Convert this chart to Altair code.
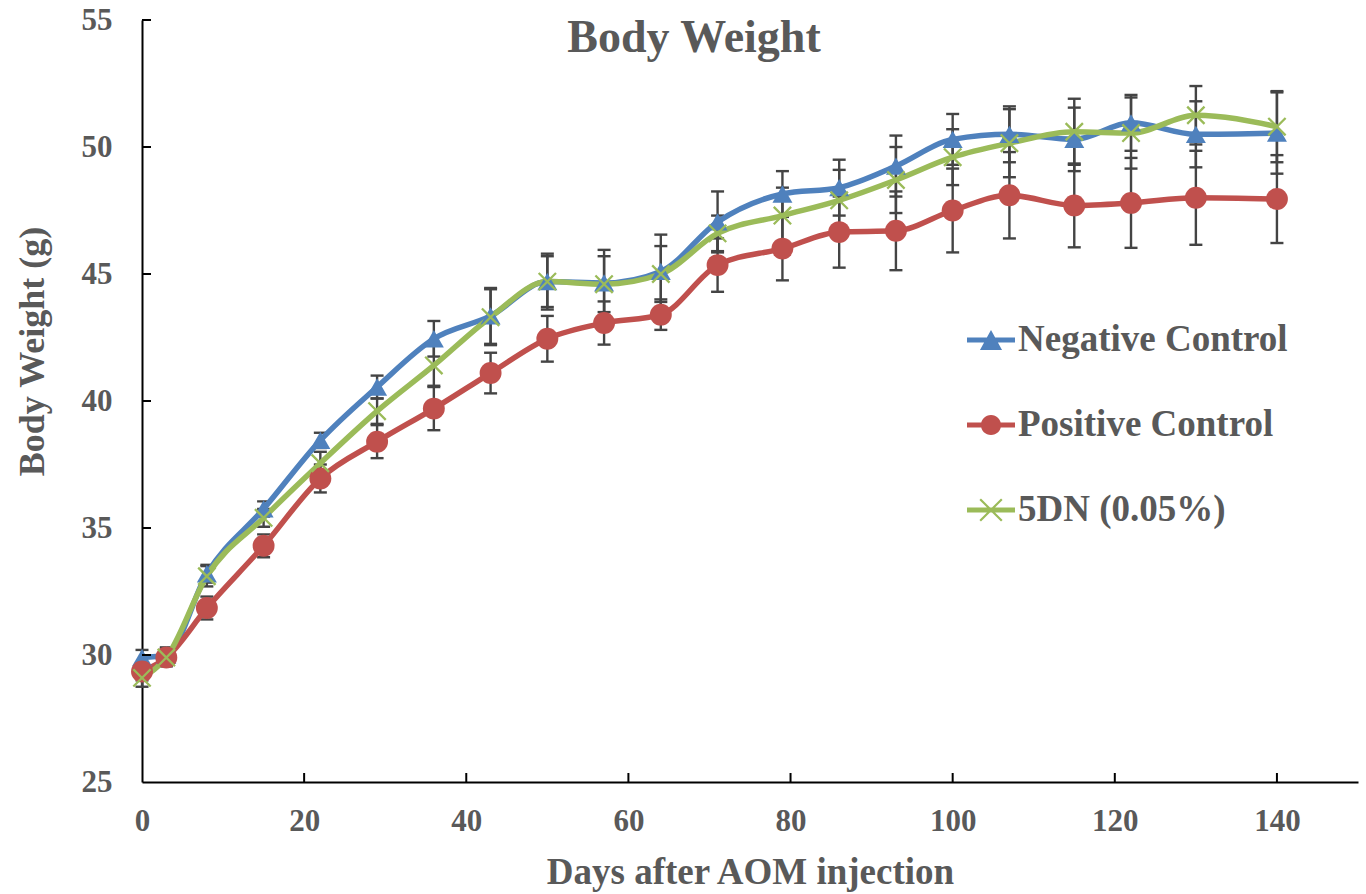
import altair as alt
import pandas as pd

days = [0, 3, 8, 15, 22, 29, 36, 43, 50, 57, 64, 71, 79, 86, 93, 100, 107, 115, 122, 130, 140]
series_names = ["Negative Control", "Positive Control", "5DN (0.05%)"]
colors = ["#4F81BD", "#C0504D", "#9BBB59"]

neg_mean = [29.9, 30.0, 33.2, 35.75, 38.45, 40.55, 42.45, 43.35, 44.7, 44.65, 45.1, 47.05, 48.15,
            48.4, 49.25, 50.3, 50.5, 50.3, 50.95, 50.5, 50.55]
pos_mean = [29.35, 29.9, 31.85, 34.3, 36.95, 38.4, 39.7, 41.1, 42.45, 43.07, 43.4, 45.35, 46.0,
            46.65, 46.7, 47.5, 48.1, 47.7, 47.8, 48.0, 47.95]
dn_mean = [29.1, 29.9, 33.1, 35.4, 37.55, 39.6, 41.4, 43.3, 44.7, 44.6, 45.0, 46.6, 47.3,
           47.9, 48.7, 49.6, 50.15, 50.6, 50.55, 51.25, 50.8]

neg_err = [0.3, 0.3, 0.35, 0.3, 0.3, 0.45, 0.7, 1.1, 1.1, 1.3, 1.45, 1.2, 0.9,
           1.1, 1.2, 1.0, 1.1, 1.25, 1.1, 1.3, 1.6]
pos_err = [0.35, 0.3, 0.45, 0.45, 0.55, 0.65, 0.85, 0.8, 0.9, 0.85, 0.6, 1.05, 1.25,
           1.4, 1.55, 1.65, 1.7, 1.65, 1.77, 1.85, 1.73]
dn_err = [0.35, 0.35, 0.4, 0.35, 0.45, 0.5, 0.8, 1.1, 1.0, 1.1, 1.1, 0.7, 1.1,
          1.2, 1.3, 1.1, 1.34, 1.3, 1.4, 1.15, 1.4]

x_tick_values = [0, 20, 40, 60, 80, 100, 120, 140]
y_tick_values = [25, 30, 35, 40, 45, 50, 55]
x_inner_ticks = [20, 40, 60, 80, 100, 120, 140]
y_inner_ticks = [30, 35, 40, 45, 50, 55]

chart_title = "Body Weight"
x_title = "Days after AOM injection"
y_title = "Body Weight (g)"

rows = []
for name, means, errs in zip(series_names, [neg_mean, pos_mean, dn_mean], [neg_err, pos_err, dn_err]):
    for d, m, e in zip(days, means, errs):
        rows.append({"series": name, "day": d, "weight": m, "err": e,
                     "lo": round(m - e, 3), "hi": round(m + e, 3)})
df = pd.DataFrame(rows)

FONT = "Liberation Serif"
TEXT = "#595959"
W, H = 1216, 762

x_scale = alt.Scale(domain=[0, 150], nice=False, zero=False)
y_scale = alt.Scale(domain=[25, 55], nice=False, zero=False)
color_scale = alt.Scale(domain=series_names, range=colors)

x_axis = alt.Axis(values=x_tick_values, title=x_title, labelPadding=24, titleFontSize=37,
                  titleY=101, titleBaseline="alphabetic", labelFlush=False)
y_axis = alt.Axis(values=y_tick_values, title=y_title, labelPadding=30,
                  titleX=-99, titleY=331, titleBaseline="alphabetic",
                  titleAngle=270, labelFlush=False)


def X(field):
    return alt.X(field, scale=x_scale, axis=x_axis)


def Y(field):
    return alt.Y(field, scale=y_scale, axis=y_axis)


base = alt.Chart(df)

# error bars
err_rule = base.mark_rule(color="#444444", strokeWidth=2.4).encode(
    x=X("day:Q"), y=Y("lo:Q"), y2="hi:Q",
)
err_caps = base.transform_fold(["lo", "hi"], as_=["end", "val"]).mark_tick(
    orient="horizontal", size=13, thickness=2.4, color="#444444", opacity=1
).encode(x=X("day:Q"), y=Y("val:Q"))

x_path = "M-1,-1L1,1M-1,1L1,-1"
line_layers = []
point_layers = []
for name, col in zip(series_names, colors):
    sub = base.transform_filter(alt.datum.series == name)
    line_layers.append(sub.mark_line(interpolate="monotone", strokeWidth=5.5, color=col).encode(
        x=X("day:Q"), y=Y("weight:Q")))
    if name == series_names[0]:
        mk = sub.mark_point(shape="triangle-up", filled=True, size=400, color=col, opacity=1)
    elif name == series_names[1]:
        mk = sub.mark_point(shape="circle", filled=True, size=480, color=col, opacity=1)
    else:
        mk = sub.mark_point(shape=x_path, filled=False, size=300, strokeWidth=2.3, color=col, opacity=1)
    point_layers.append(mk.encode(x=X("day:Q"), y=Y("weight:Q")))

# inward axis ticks
xt = alt.Chart(pd.DataFrame({"day": x_inner_ticks})).mark_rule(color="black", strokeWidth=2).encode(
    x=X("day:Q"), y=alt.value(H), y2=alt.value(H - 9),
)
yt = alt.Chart(pd.DataFrame({"weight": y_inner_ticks})).mark_rule(color="black", strokeWidth=2).encode(
    y=Y("weight:Q"), x=alt.value(0), x2=alt.value(9),
)

title_mark = alt.Chart(pd.DataFrame({"t": [chart_title]})).mark_text(
    font=FONT, fontSize=46, fontWeight="bold", color=TEXT, align="center", baseline="alphabetic"
).encode(text="t:N", x=alt.value(552), y=alt.value(32))

# legend entries: line segment + marker
tri_leg = "M-1,-0.1L1,-0.1L1,0.1L-1,0.1Z M0,-0.42L0.46,0.42L-0.46,0.42Z"
circ_leg = "M-1,-0.1L1,-0.1L1,0.1L-1,0.1Z M0.42,0A0.42,0.42 0 1,1 -0.42,0A0.42,0.42 0 1,1 0.42,0Z"
x_leg = ("M-1,-0.1L1,-0.1L1,0.1L-1,0.1Z "
         "M-0.418,-0.482L0.482,0.418L0.418,0.482L-0.482,-0.418Z "
         "M-0.482,0.418L0.418,-0.482L0.482,-0.418L-0.418,0.482Z")

legend_cfg = dict(title=None, orient="none", legendX=825, legendY=296, symbolSize=2304,
                  rowPadding=43, labelFont=FONT, labelFontSize=37, labelFontWeight="bold",
                  labelColor=TEXT, labelOffset=3, padding=0, symbolStrokeWidth=0,
                  symbolOpacity=1, labelLimit=400)

legend_layer = base.transform_filter("false").mark_point(filled=True, opacity=1, size=2304).encode(
    x=X("day:Q"), y=Y("weight:Q"),
    color=alt.Color("series:N", scale=color_scale, legend=alt.Legend(**legend_cfg)),
    shape=alt.Shape("series:N", scale=alt.Scale(domain=series_names, range=[tri_leg, circ_leg, x_leg]),
                    legend=alt.Legend(**legend_cfg)),
)

chart = alt.layer(
    err_rule, err_caps, *line_layers, *point_layers, xt, yt, title_mark, legend_layer
).properties(
    width=W, height=H,
    autosize=alt.AutoSizeParams(type="none"),
    padding={"left": 142, "top": 20, "right": 8, "bottom": 112},
).configure_view(stroke=None).configure_axis(
    domainColor="black", domainWidth=2, ticks=False, tickSize=0, grid=False,
    labelFont=FONT, labelFontSize=31, labelFontWeight="bold", labelColor=TEXT,
    titleFont=FONT, titleFontSize=36, titleFontWeight="bold", titleColor=TEXT,
)

chart.save("out.html", embed_options={"renderer": "svg", "actions": False})
